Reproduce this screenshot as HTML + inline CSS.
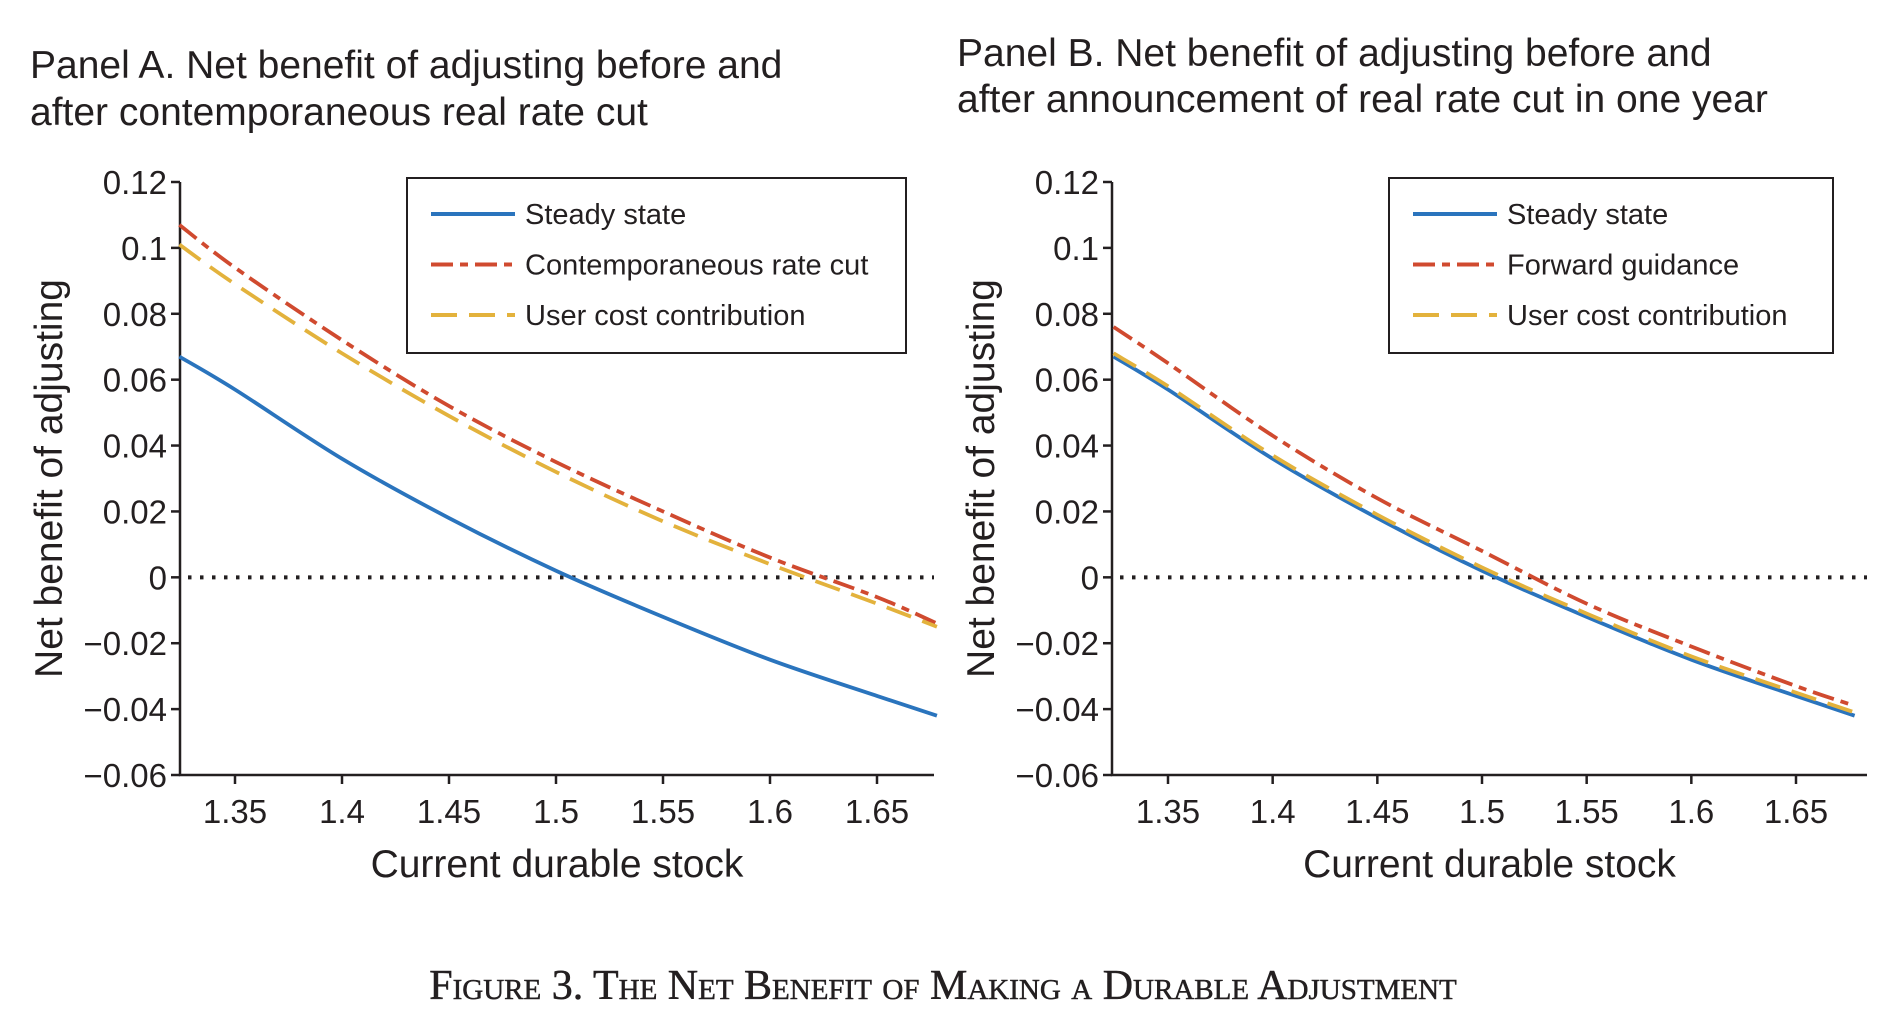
<!DOCTYPE html>
<html><head><meta charset="utf-8"><style>
html,body{margin:0;padding:0;background:#fff;}
svg{display:block;font-family:"Liberation Sans",sans-serif;}
</style></head><body>
<svg id="fig" width="1880" height="1014" viewBox="0 0 1880 1014">
<g font-size="39" fill="#231f20">
<text x="30" y="78">Panel A. Net benefit of adjusting before and</text>
<text x="30" y="125">after contemporaneous real rate cut</text>
</g>
<g font-size="39" fill="#231f20">
<text x="957" y="66">Panel B. Net benefit of adjusting before and</text>
<text x="957" y="112">after announcement of real rate cut in one year</text>
</g>
<text x="943" y="999" text-anchor="middle" font-family="Liberation Serif, serif" font-size="42" fill="#231f20" stroke="#231f20" stroke-width="0.5" style="font-variant:small-caps">Figure 3. The Net Benefit of Making a Durable Adjustment</text>
<g id="pa"></g>
<g id="pb"></g>
</svg>
<script>
const xValues = [1.324, 1.35, 1.4, 1.45, 1.5, 1.55, 1.6, 1.65, 1.678];
const steadyA = [0.067, 0.057, 0.036, 0.018, 0.002, -0.012, -0.025, -0.036, -0.042];
const rateCutA = [0.107, 0.094, 0.072, 0.052, 0.035, 0.020, 0.006, -0.006, -0.014];
const userCostA = [0.101, 0.089, 0.068, 0.049, 0.032, 0.017, 0.004, -0.008, -0.015];
const steadyB = [0.067, 0.057, 0.036, 0.018, 0.002, -0.012, -0.025, -0.036, -0.042];
const guidanceB = [0.076, 0.065, 0.043, 0.024, 0.008, -0.008, -0.021, -0.033, -0.039];
const userCostB = [0.068, 0.058, 0.037, 0.019, 0.003, -0.011, -0.024, -0.035, -0.041];
const xTicks = [1.35, 1.4, 1.45, 1.5, 1.55, 1.6, 1.65];
const xTickLabels = ["1.35", "1.4", "1.45", "1.5", "1.55", "1.6", "1.65"];
const yTicks = [0.12, 0.1, 0.08, 0.06, 0.04, 0.02, 0, -0.02, -0.04, -0.06];
const yTickLabels = ["0.12", "0.1", "0.08", "0.06", "0.04", "0.02", "0", "\u22120.02", "\u22120.04", "\u22120.06"];
const legendA = ["Steady state", "Contemporaneous rate cut", "User cost contribution"];
const legendB = ["Steady state", "Forward guidance", "User cost contribution"];

const NS = "http://www.w3.org/2000/svg";
function mk(parent, tag, attrs, text) {
  const e = document.createElementNS(NS, tag);
  for (const k in attrs) e.setAttribute(k, attrs[k]);
  if (text !== undefined) e.textContent = text;
  parent.appendChild(e);
  return e;
}
const styles = [
  {stroke: "#2a74bd", dash: ""},
  {stroke: "#d04a2f", dash: "22 7 8 7"},
  {stroke: "#e3b23c", dash: "26 12"}
];
function smoothPath(pts) {
  let d = "M" + pts[0][0] + "," + pts[0][1];
  for (let i = 0; i < pts.length - 1; i++) {
    const p0 = pts[Math.max(0, i - 1)], p1 = pts[i], p2 = pts[i + 1], p3 = pts[Math.min(pts.length - 1, i + 2)];
    const c1x = p1[0] + (p2[0] - p0[0]) / 6, c1y = p1[1] + (p2[1] - p0[1]) / 6;
    const c2x = p2[0] - (p3[0] - p1[0]) / 6, c2y = p2[1] - (p3[1] - p1[1]) / 6;
    d += " C" + c1x + "," + c1y + " " + c2x + "," + c2y + " " + p2[0] + "," + p2[1];
  }
  return d;
}
function panel(g, cfg) {
  const x0 = cfg.axisX, x1 = cfg.axisEnd, yTop = 182, yBot = 775;
  const xs = v => cfg.px135 + (v - 1.35) * (cfg.px165 - cfg.px135) / 0.3;
  const ys = v => yTop + (0.12 - v) * (yBot - yTop) / 0.18;
  const ax = mk(g, "path", {d: `M${x0},${yTop} V${yBot} H${x1}`, fill: "none", stroke: "#231f20", "stroke-width": 2.5});
  
  
  yTicks.forEach((t, i) => {
    const y = ys(t);
    const tk = mk(g, "line", {x1: x0 - 9, x2: x0, y1: y, y2: y, stroke: "#231f20", "stroke-width": 2.5});
    
    
    const lb = mk(g, "text", {x: x0 - 13, y: y + 12, "text-anchor": "end", "font-size": 33, fill: "#231f20"}, yTickLabels[i]);
    
    
  });
  xTicks.forEach((t, i) => {
    const x = xs(t);
    const tk = mk(g, "line", {x1: x, x2: x, y1: yBot, y2: yBot + 9, stroke: "#231f20", "stroke-width": 2.5});
    
    
    const lb = mk(g, "text", {x: x, y: yBot + 48, "text-anchor": "middle", "font-size": 33, fill: "#231f20"}, xTickLabels[i]);
    
    
  });
  const zl = mk(g, "line", {x1: x0 + 8, x2: x1, y1: ys(0), y2: ys(0), stroke: "#231f20", "stroke-width": 4, "stroke-dasharray": "3.5 8.5"});
  
  
  const yt = mk(g, "text", {x: 0, y: 0, transform: `translate(${cfg.axisX - 118},${(yTop + yBot) / 2}) rotate(-90)`, "text-anchor": "middle", "font-size": 39, fill: "#231f20"}, "Net benefit of adjusting");
  
  
  const xt = mk(g, "text", {x: (x0 + x1) / 2, y: 877, "text-anchor": "middle", "font-size": 39, fill: "#231f20"}, "Current durable stock");
  
  
  const names = ["series-steady-state", "series-rate-cut", "series-user-cost"];
  cfg.series.forEach((s, i) => {
    const pts = xValues.map((xv, j) => [xs(xv), ys(s[j])]);
    const p = mk(g, "path", {d: smoothPath(pts), fill: "none", stroke: styles[i].stroke, "stroke-width": 3.8});
    if (styles[i].dash) p.setAttribute("stroke-dasharray", styles[i].dash);
    
    
  });
  const lg = mk(g, "g", {});
  
  
  mk(lg, "rect", {x: cfg.leg[0], y: 178, width: cfg.leg[1] - cfg.leg[0], height: 175, fill: "#fff", stroke: "#231f20", "stroke-width": 2});
  cfg.legend.forEach((lab, i) => {
    const y = 214 + i * 50.5;
    const e = mk(lg, "g", {});
    
    
    const l = mk(e, "line", {x1: cfg.leg[0] + 24, x2: cfg.leg[0] + 108, y1: y, y2: y, stroke: styles[i].stroke, "stroke-width": 4});
    if (styles[i].dash) l.setAttribute("stroke-dasharray", styles[i].dash);
    mk(e, "text", {x: cfg.leg[0] + 118, y: y + 10, "font-size": 29, fill: "#231f20"}, lab);
  });
}
panel(document.getElementById("pa"), {axisX: 180, axisEnd: 934, px135: 235, px165: 877, leg: [407, 906], series: [steadyA, rateCutA, userCostA], legend: legendA});
panel(document.getElementById("pb"), {axisX: 1112, axisEnd: 1867, px135: 1168, px165: 1796, leg: [1389, 1833], series: [steadyB, guidanceB, userCostB], legend: legendB});
</script>
</body></html>
